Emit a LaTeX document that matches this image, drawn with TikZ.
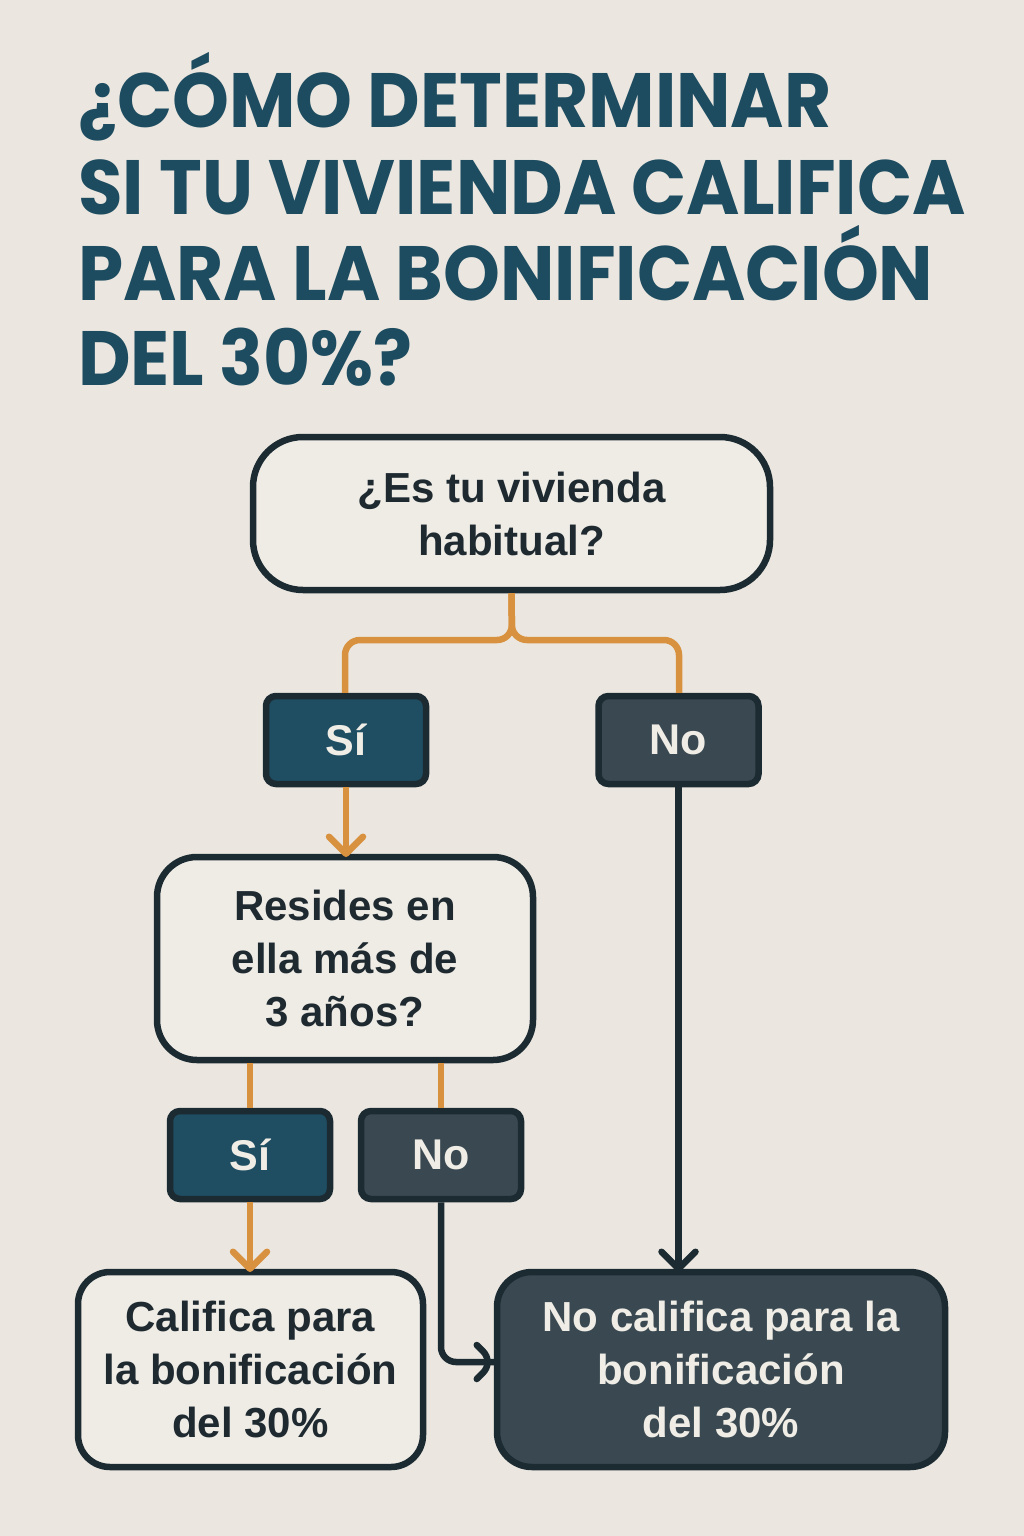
\documentclass[tikz,border=0pt]{standalone}
\usepackage{fontspec}
\setmainfont{Liberation Sans}
\newfontfamily\titlefont[FakeStretch=0.94]{Poppins}
\definecolor{bgc}{HTML}{EBE7E0}
\definecolor{titlec}{HTML}{1D4B5F}
\definecolor{bordc}{HTML}{1C2A32}
\definecolor{sifill}{HTML}{1F4D62}
\definecolor{nofill}{HTML}{3A4951}
\definecolor{orangec}{HTML}{D8913F}
\definecolor{txtc}{HTML}{1E2930}
\definecolor{whitec}{HTML}{F0EDE6}
\tikzset{
  x=1pt,y=-1pt,
  titleline/.style={anchor=base west,inner sep=0pt,text=titlec,font=\titlefont\bfseries\fontsize{77}{86}\selectfont},
  lightbox/.style={draw=bordc,line width=6.5pt,fill=bgc!80!white,text=txtc,align=center,
    font=\bfseries\fontsize{42}{53}\selectfont,inner sep=0pt},
  darkbox/.style={draw=bordc,line width=6.5pt,fill=nofill,text=whitec,align=center,
    font=\bfseries\fontsize{42}{53}\selectfont,inner sep=0pt},
  sibox/.style={draw=bordc,line width=6.5pt,fill=sifill,text=whitec,rounded corners=10pt,
    font=\bfseries\fontsize{43}{53}\selectfont,inner sep=0pt,minimum width=160pt,minimum height=88pt},
  nobox/.style={sibox,fill=nofill},
  oline/.style={draw=orangec,line width=6.5pt},
  dline/.style={draw=bordc,line width=6.5pt},
  pics/chevd/.style={code={\draw[#1,line cap=round,line join=round] (-17,-17) -- (0,0) -- (17,-17);}},
  pics/chevr/.style={code={\draw[#1,line cap=round,line join=round] (-17,-17) -- (0,0) -- (-17,17);}},
}
\begin{document}
\begin{tikzpicture}
\fill[bgc] (0,0) rectangle (1024,1536);
\useasboundingbox (0,0) rectangle (1024,1536);

\node[titleline] (t1) at (78,128) {¿CÓMO DETERMINAR};
\node[titleline] (t2) at (78,214) {SI TU VIVIENDA CALIFICA};
\node[titleline] (t3) at (78,300) {PARA LA BONIFICACIÓN};
\node[titleline] (t4) at (78,385) {DEL 30\%?};

\node[lightbox,rounded corners=50pt,minimum width=517pt,minimum height=153pt] (q1) at (511.5,513.5) {¿Es tu vivienda\\habitual?};
\node[sibox] (si1) at (346,740) {Sí};
\node[nobox] (no1) at (678.5,740) {No};
\node[lightbox,rounded corners=40pt,minimum width=376pt,minimum height=203pt] (q2) at (345,958.5) {Resides en\\ella más de\\3 años?};
\node[sibox] (si2) at (250,1155) {Sí};
\node[nobox] (no2) at (441,1155) {No};
\node[lightbox,rounded corners=32pt,minimum width=345pt,minimum height=195pt] (r1) at (250.5,1369.5) {Califica para\\la bonificación\\del 30\%};
\node[darkbox,rounded corners=35pt,minimum width=448pt,minimum height=195pt] (r2) at (721,1369.5) {No califica para la\\bonificación\\del 30\%};

% orange branches from q1
\draw[oline,rounded corners=15pt] (q1.south) -- (512,640) -- (345,640) -- (si1.north -| 345,0);
\draw[oline,rounded corners=15pt] (q1.south) -- (512,640) -- (679,640) -- (no1.north -| 679,0);
% Si1 -> q2
\draw[oline] (si1.south) -- (q2.north -| si1.south) pic {chevd=oline};
% q2 branches
\draw[oline] (q2.south -| si2.north) -- (si2.north);
\draw[oline] (q2.south -| no2.north) -- (no2.north);
% Si2 -> r1
\draw[oline] (si2.south) -- (r1.north -| si2.south) pic {chevd=oline};
% No1 -> r2
\draw[dline] (no1.south) -- (r2.north -| no1.south) pic {chevd=dline};
% No2 -> r2
\draw[dline,rounded corners=15pt] (no2.south) -- (441,1362) -- (r2.west |- 0,1362) pic {chevr=dline};
\end{tikzpicture}
\end{document}
